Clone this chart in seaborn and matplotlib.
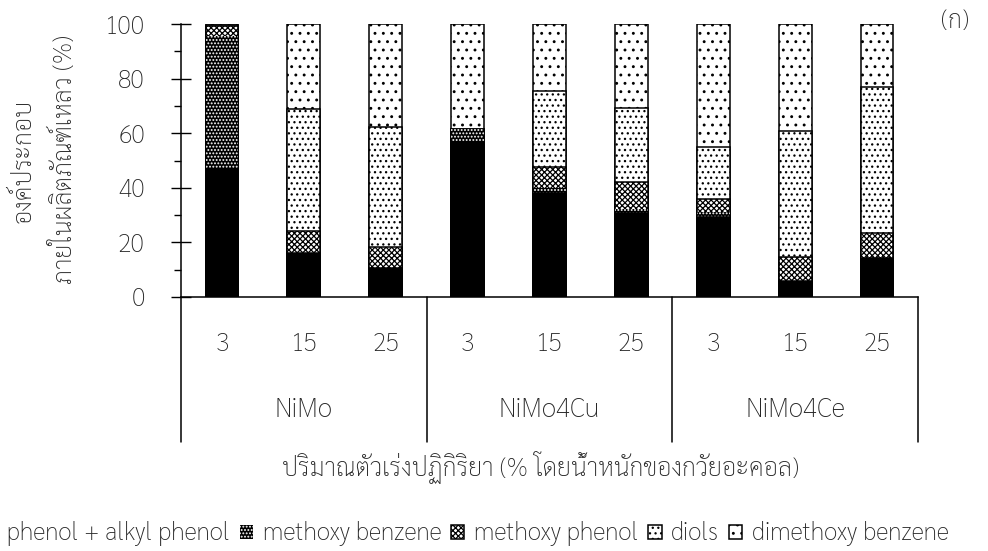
import matplotlib
matplotlib.use("Agg")
import matplotlib.pyplot as plt
from matplotlib import font_manager
from matplotlib.patches import Patch
from matplotlib.transforms import blended_transform_factory
import numpy as np
import pandas as pd
import seaborn as sns

# ---------------- data ----------------
catalysts = ["NiMo", "NiMo4Cu", "NiMo4Ce"]
loadings = ["3", "15", "25"]
components = ["phenol + alkyl phenol", "methoxy benzene", "methoxy phenol",
              "diols", "dimethoxy benzene"]
phenol = [47.0, 16.2, 10.7, 56.9, 38.0, 30.6, 29.4, 6.0, 14.2]
methoxy_benzene = [48.6, 0.0, 0.0, 4.5, 2.0, 1.5, 1.9, 0.0, 0.6]
methoxy_phenol = [3.7, 8.0, 7.7, 0.0, 7.7, 10.1, 4.6, 8.8, 8.5]
diols = [0.4, 44.5, 44.0, 0.0, 27.6, 27.1, 19.2, 46.1, 53.7]
dimethoxy_benzene = [0.3, 31.3, 37.6, 38.6, 24.7, 30.7, 44.9, 39.1, 23.0]
ylabel_lines = ["องค์ประกอบ", "ภายในผลิตภัณฑ์เหลว (%)"]
xlabel = "ปริมาณตัวเร่งปฏิกิริยา (% โดยน้ำหนักของกวัยอะคอล)"
panel_label = "(ก)"

# ---------------- fonts ----------------
sns.set_style("ticks")
available = {f.name for f in font_manager.fontManager.ttflist}
def pick(*cands):
    for c in cands:
        if c in available:
            return c
    return "DejaVu Sans"
thai_font = pick("Sarabun", "Noto Sans Thai Looped", "Noto Sans Thai", "Anuphan")
plt.rcParams["font.family"] = [thai_font, "DejaVu Sans"]
plt.rcParams["font.weight"] = "light"
plt.rcParams["hatch.linewidth"] = 0.9

keys = [f"{c}-{l}" for c in catalysts for l in loadings]
df = pd.DataFrame({
    "key": keys,
    "phenol": phenol,
    "methoxy_benzene": methoxy_benzene,
    "methoxy_phenol": methoxy_phenol,
    "diols": diols,
    "dimethoxy_benzene": dimethoxy_benzene,
})
cols = ["phenol", "methoxy_benzene", "methoxy_phenol", "diols", "dimethoxy_benzene"]
cum = df[cols].cumsum(axis=1)
for c in cols:
    df["cum_" + c] = cum[c]

styles = {
    "dimethoxy_benzene": dict(color="white", hatch="..", edgecolor="black", linewidth=1.1),
    "diols": dict(color="white", hatch="...", edgecolor="black", linewidth=1.1),
    "methoxy_phenol": dict(color="white", hatch="xxxxxx", edgecolor="black", linewidth=1.1),
    "methoxy_benzene": dict(color="black", hatch=".....", edgecolor="white", linewidth=0),
    "phenol": dict(color="black", hatch=None, edgecolor="black", linewidth=1.1),
}

fig = plt.figure(figsize=(9.88, 5.51), dpi=100)
ax = fig.add_axes([181/988, 1-297/551, (918-181)/988, (297-24)/551])

for c in reversed(cols):
    st = styles[c]
    sns.barplot(data=df, x="key", y="cum_" + c, order=keys, ax=ax, width=0.4,
                saturation=1, errorbar=None, color=st["color"],
                hatch=st["hatch"], edgecolor=st["edgecolor"],
                linewidth=st["linewidth"])

ax.set_ylim(0, 100)
ax.set_xlim(-0.5, 8.5)
ax.set_yticks(np.arange(0, 101, 20))
ax.set_yticks(np.arange(10, 100, 20), minor=True)
ax.tick_params(axis="y", which="major", direction="inout", length=14, width=1,
               pad=19, labelsize=18, color="black")
ax.tick_params(axis="y", which="minor", direction="out", length=5, width=1, color="black")
ax.set_xticks(range(len(keys)))
ax.set_xticklabels(loadings * 3)
ax.tick_params(axis="x", length=0, pad=25, labelsize=18)
ax.set_xlabel("")
ax.set_ylabel("")
for s in ["top", "right"]:
    ax.spines[s].set_visible(False)
for s in ["left", "bottom"]:
    ax.spines[s].set_linewidth(1.1)
    ax.spines[s].set_color("black")

trans = blended_transform_factory(ax.transData, ax.transAxes)
ybot = -(442-297)/273
for xs in [-0.5, 2.5, 5.5, 8.5]:
    ax.plot([xs, xs], [0, ybot], transform=trans, color="black", lw=1.1, clip_on=False)
for i, c in enumerate(catalysts):
    ax.text(3*i + 1, -(410-297)/273, c, transform=trans, ha="center", va="center",
            fontsize=19)

fig.text(540/988, 1-467/551, xlabel, ha="center", va="center", fontsize=18)
fig.text(24/988, 1-161/551, ylabel_lines[0], rotation=90, ha="center", va="center", fontsize=18)
fig.text(64/988, 1-159/551, ylabel_lines[1], rotation=90, ha="center", va="center", fontsize=18)
fig.text(955/988, 1-22/551, panel_label, ha="center", va="center", fontsize=18)

handles = []
for c in cols:
    st = styles[c]
    handles.append(Patch(facecolor=st["color"], hatch=st["hatch"],
                         edgecolor=st["edgecolor"] if c != "methoxy_benzene" else "white",
                         linewidth=st["linewidth"]))
leg = fig.legend(handles, components, loc="center left",
                 bbox_to_anchor=(-16/988, 1-534/551), ncol=5, frameon=False,
                 fontsize=17.5, handlelength=0.55, handleheight=0.55, handletextpad=0.4,
                 columnspacing=0.4, borderpad=0, borderaxespad=0)

fig.savefig("out.png", dpi=100)
